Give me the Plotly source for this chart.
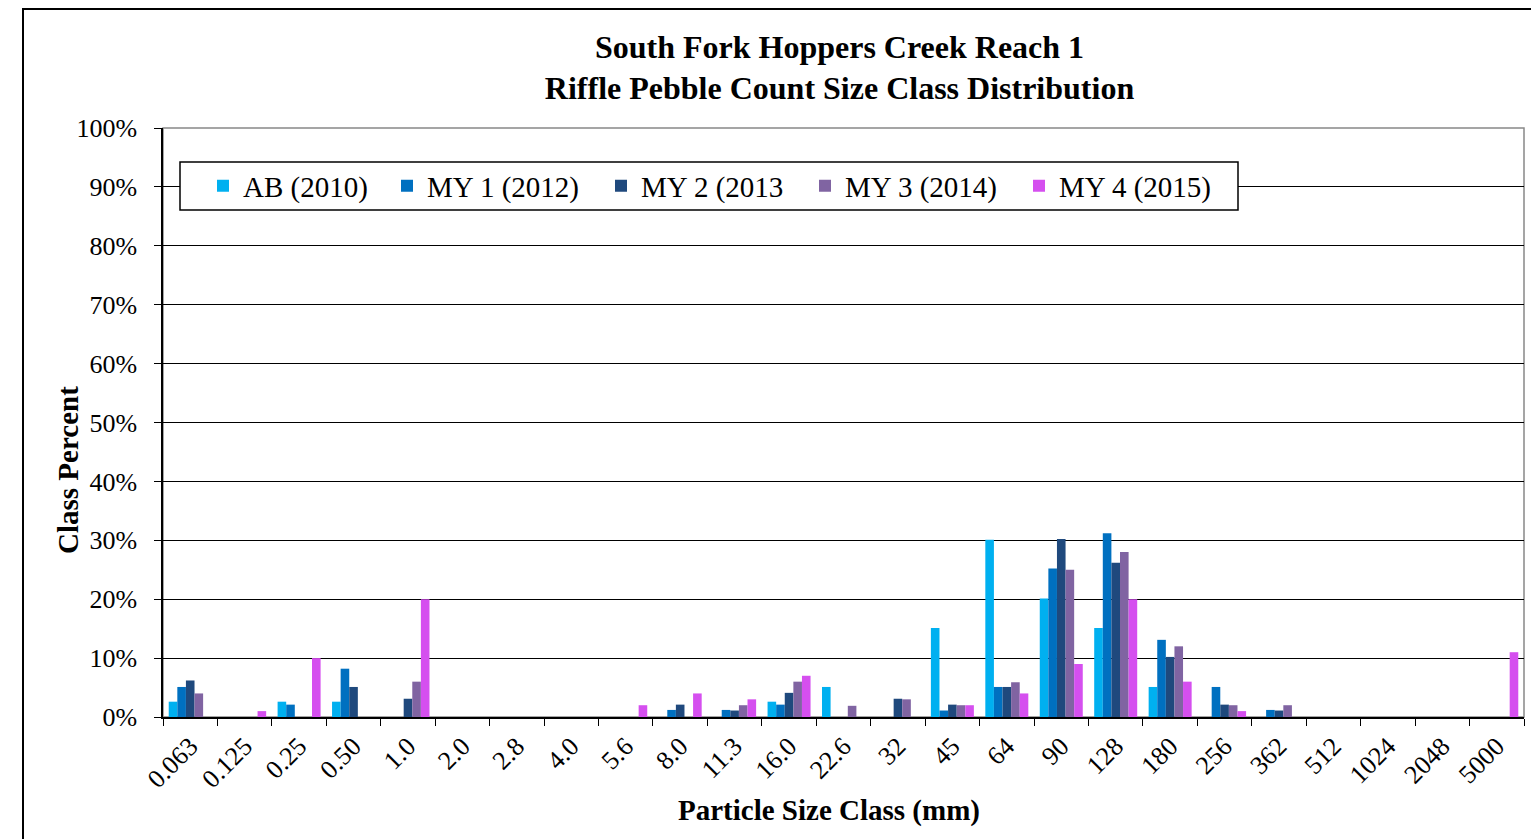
import plotly.graph_objects as go

categories = ["0.063", "0.125", "0.25", "0.50", "1.0", "2.0", "2.8", "4.0", "5.6", "8.0",
              "11.3", "16.0", "22.6", "32", "45", "64", "90", "128", "180", "256",
              "362", "512", "1024", "2048", "5000"]

ab_2010 = [2.6, 0, 2.6, 2.6, 0, 0, 0, 0, 0, 0, 0, 2.6, 5.1, 0, 15.1, 30.1, 20.1, 15.1, 5.1, 0, 0, 0, 0, 0, 0]
my1_2012 = [5.1, 0, 2.1, 8.2, 0, 0, 0, 0, 0, 1.2, 1.2, 2.1, 0, 0, 1.1, 5.1, 25.2, 31.2, 13.1, 5.1, 1.2, 0, 0, 0, 0]
my2_2013 = [6.2, 0, 0, 5.1, 3.1, 0, 0, 0, 0, 2.1, 1.1, 4.1, 0, 3.1, 2.1, 5.1, 30.2, 26.2, 10.2, 2.1, 1.1, 0, 0, 0, 0]
my3_2014 = [4.0, 0, 0, 0, 6.0, 0, 0, 0, 0, 0, 2.0, 6.0, 1.9, 3.0, 2.0, 5.9, 25.0, 28.0, 12.0, 2.0, 2.0, 0, 0, 0, 0]
my4_2015 = [0, 1.0, 10.0, 0, 20.0, 0, 0, 0, 2.0, 4.0, 3.0, 7.0, 0, 0, 2.0, 4.0, 9.0, 20.0, 6.0, 1.0, 0, 0, 0, 0, 11.0]

series_names = ["AB (2010)", "MY 1 (2012)", "MY 2 (2013", "MY 3 (2014)", "MY 4 (2015)"]
series_values = [ab_2010, my1_2012, my2_2013, my3_2014, my4_2015]
series_colors = ["#00B0F0", "#0070C0", "#1F497D", "#8064A2", "#D54FEF"]
legend_ids = ["legend", "legend2", "legend3", "legend4", "legend5"]
legend_marker_x = [226, 410, 624, 828, 1042]   # screen px of each legend symbol

FONT = "Times New Roman, Liberation Serif, serif"

# the page body has an 8px margin, so the figure starts at (8, 8) on screen
OFF = 8
W, H = 1539 - OFF, 839 - OFF
PL, PR, PT, PB = 163, 1524, 128, 717          # plot area in screen px
L, R, T, B = PL - OFF, W - (PR - OFF), PT - OFF, H - (PB - OFF)
pw = W - L - R
ph = H - T - B


def px_x(x):
    return (x - OFF - L) / pw


def px_y(y):
    return (H - B - (y - OFF)) / ph


fig = go.Figure()
for name, vals, col, lg in zip(series_names, series_values, series_colors, legend_ids):
    fig.add_trace(go.Bar(
        x=categories, y=[v / 100 for v in vals], name=name,
        marker=dict(color=col, line=dict(width=0)),
        legend=lg,
    ))

legend_common = dict(
    orientation="h", yanchor="middle", xanchor="left",
    bgcolor="rgba(0,0,0,0)", borderwidth=0,
    font=dict(family=FONT, size=29, color="black"),
)
legends = {}
for lg, mx in zip(legend_ids, legend_marker_x):
    legends[lg] = dict(legend_common, x=px_x(mx - 23), y=px_y(186))

fig.update_layout(
    width=W, height=H,
    margin=dict(l=L, r=R, t=T, b=B),
    paper_bgcolor="white", plot_bgcolor="white",
    barmode="group", bargap=0.21, bargroupgap=0,
    font=dict(family=FONT, color="black", size=26),
    title=dict(
        text="<b>South Fork Hoppers Creek Reach 1<br>Riffle Pebble Count Size Class Distribution</b>",
        font=dict(family=FONT, size=32, color="black"),
        x=(839.5 - OFF) / W, xref="container", xanchor="center",
        y=1 - (57.5 - OFF) / H, yref="container", yanchor="middle",
    ),
    xaxis=dict(
        type="category", tickangle=-45,
        showline=True, linecolor="black", linewidth=1.5,
        ticks="outside", tickson="boundaries", ticklen=7, tickcolor="black", tickwidth=1,
        tickfont=dict(family=FONT, size=26, color="black"),
        ticklabelstandoff=2,
        showgrid=False, zeroline=False,
    ),
    yaxis=dict(
        range=[0, 1], tickformat=".0%", dtick=0.1, tick0=0,
        showline=True, linecolor="black", linewidth=1.5,
        ticks="outside", ticklen=7, tickcolor="black", tickwidth=1,
        tickfont=dict(family=FONT, size=26, color="black"),
        ticklabelstandoff=12,
        showgrid=True, gridcolor="black", gridwidth=1,
        zeroline=False,
    ),
    showlegend=True,
    **legends,
)

fig.add_annotation(
    text="<b>Class Percent</b>", textangle=-90,
    xref="paper", yref="paper", x=px_x(68), y=px_y(470),
    xanchor="center", yanchor="middle", showarrow=False,
    font=dict(family=FONT, size=29, color="black"),
)
fig.add_annotation(
    text="<b>Particle Size Class (mm)</b>",
    xref="paper", yref="paper", x=px_x(829), y=px_y(810),
    xanchor="center", yanchor="middle", showarrow=False,
    font=dict(family=FONT, size=29, color="black"),
)

# plot area frame (grey top/right), legend box, and outer chart border
fig.add_shape(type="rect", xref="paper", yref="paper", x0=0, x1=1, y0=0, y1=1,
              line=dict(color="#888888", width=1.5), layer="below")
fig.add_shape(type="rect", xref="paper", yref="paper",
              x0=px_x(180), x1=px_x(1238), y0=px_y(210), y1=px_y(162),
              line=dict(color="black", width=1.5), fillcolor="white", layer="above")
fig.add_shape(type="rect", xref="paper", yref="paper",
              x0=px_x(23), x1=px_x(1580), y0=px_y(880), y1=px_y(9),
              line=dict(color="black", width=2), fillcolor="rgba(0,0,0,0)", layer="below")

fig.write_html("out.html")
